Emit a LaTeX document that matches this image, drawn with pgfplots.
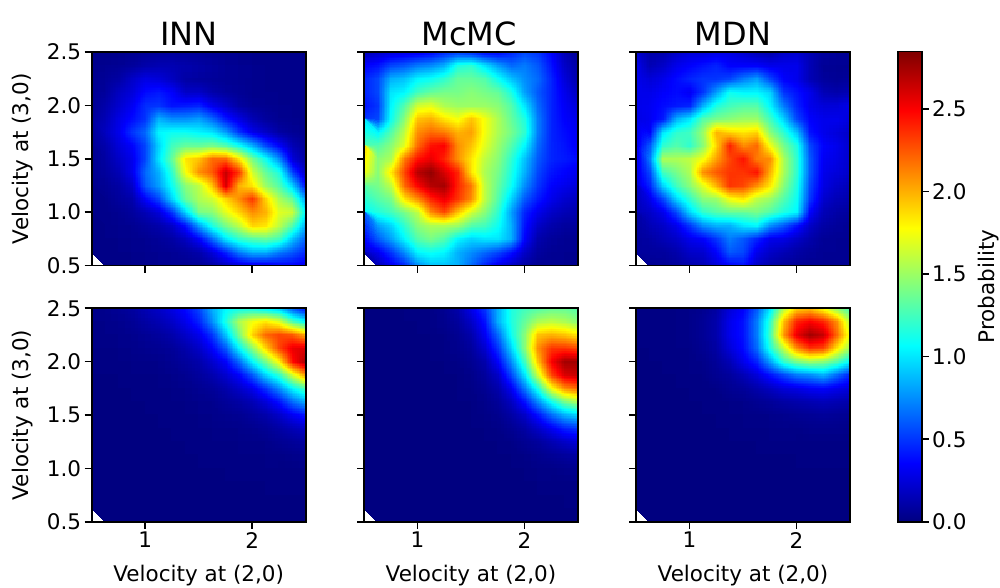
\documentclass[border=0pt]{standalone}
\usepackage{fontspec}
\setmainfont{DejaVu Sans}
\usepackage{pgfplots}
\usepgfplotslibrary{patchplots}
\pgfplotsset{compat=1.18}
\newcommand{\tfs}{\fontsize{21.5}{25}\selectfont}
\newcommand{\ttl}{\fontsize{32}{36}\selectfont}
\pgfplotsset{
  table/hmtab/.style={header=false,row sep=crcr,meta index=0,
    x expr={0.5+mod(\coordindex,17)*0.125},
    y expr={2.5-floor(\coordindex/17)*0.125}},
  hmplot/.style={surf,shader=interp,patch type=bilinear,mesh/cols=17,point meta=explicit},
  base/.style={
    scale only axis,width=214pt,height=213.5pt,anchor=south west,
    xmin=0.5,xmax=2.5,ymin=0.5,ymax=2.5,
    colormap/jet,point meta min=0,point meta max=2.85,
    axis on top,axis line style={line width=1.6pt,black},
    tick align=outside,major tick length=7pt,tick style={line width=1.6pt,black},
    xtick={1,2},ytick={0.5,1,1.5,2,2.5},
    xtick pos=bottom,ytick pos=left,
    tick label style={font=\tfs},
    /pgf/number format/assume math mode=true,
    xticklabel style={/pgf/number format/fixed,/pgf/number format/precision=0},
    yticklabel style={/pgf/number format/fixed,/pgf/number format/fixed zerofill,/pgf/number format/precision=1},
    title style={font=\ttl,yshift=-3pt},
  },
  nox/.style={xticklabels={}},
  noy/.style={yticklabels={}},
  yl/.style={ylabel={Velocity at (3,0)},y label style={font=\tfs,at={(axis description cs:-0.322,0.5)},anchor=center}},
  xl/.style={xlabel={Velocity at (2,0)},x label style={font=\tfs,at={(axis description cs:0.5,-0.25)},anchor=center}},
}
\begin{document}
\begin{tikzpicture}[x=1pt,y=1pt]
\path[use as bounding box] (0,0) rectangle (1000,587);
% INN top
\begin{axis}[base,at={(91.7pt,321.5pt)},nox,yl,title={INN},title style={xshift=-10pt}]
\addplot[hmplot] table[hmtab]{
0.03\\0.03\\0.04\\0.05\\0.06\\0.07\\0.08\\0.08\\0.07\\0.06\\0.05\\0.04\\0.03\\0.03\\0.03\\0.03\\0.03\\
0.04\\0.05\\0.06\\0.08\\0.12\\0.14\\0.14\\0.12\\0.1\\0.08\\0.06\\0.05\\0.04\\0.03\\0.03\\0.03\\0.03\\
0.05\\0.07\\0.1\\0.2\\0.28\\0.25\\0.18\\0.1\\0.08\\0.07\\0.06\\0.05\\0.04\\0.03\\0.03\\0.03\\0.03\\
0.06\\0.08\\0.18\\0.25\\0.38\\0.42\\0.35\\0.2\\0.2\\0.12\\0.08\\0.06\\0.04\\0.04\\0.03\\0.03\\0.03\\
0.05\\0.12\\0.22\\0.32\\0.48\\0.5\\0.4\\0.42\\0.45\\0.3\\0.2\\0.1\\0.06\\0.05\\0.04\\0.03\\0.03\\
0.07\\0.15\\0.28\\0.38\\0.5\\0.85\\0.75\\0.75\\0.8\\0.65\\0.42\\0.28\\0.15\\0.08\\0.05\\0.04\\0.03\\
0.08\\0.18\\0.3\\0.5\\0.65\\1.05\\1.1\\1.1\\1.05\\1.0\\0.8\\0.5\\0.3\\0.2\\0.1\\0.06\\0.04\\
0.06\\0.12\\0.25\\0.35\\0.55\\0.95\\1.25\\1.35\\1.35\\1.4\\1.3\\1.1\\0.85\\0.55\\0.35\\0.15\\0.06\\
0.05\\0.1\\0.2\\0.3\\0.55\\1.0\\1.35\\1.85\\1.95\\2.2\\2.2\\1.85\\1.4\\1.1\\0.75\\0.25\\0.08\\
0.05\\0.08\\0.15\\0.3\\0.65\\0.85\\1.2\\1.75\\2.1\\2.25\\2.65\\2.35\\1.65\\1.35\\1.15\\0.55\\0.15\\
0.04\\0.06\\0.1\\0.2\\0.6\\0.8\\1.1\\1.45\\1.6\\1.95\\2.6\\2.0\\1.85\\1.5\\1.3\\0.95\\0.35\\
0.03\\0.04\\0.08\\0.12\\0.35\\0.55\\0.95\\1.35\\1.55\\1.65\\1.9\\2.1\\2.35\\1.9\\1.55\\1.35\\0.75\\
0.03\\0.03\\0.05\\0.08\\0.15\\0.25\\0.5\\0.95\\1.4\\1.45\\1.7\\1.9\\2.1\\2.0\\1.7\\1.65\\1.0\\
0.02\\0.03\\0.04\\0.05\\0.08\\0.12\\0.2\\0.4\\0.8\\1.15\\1.4\\1.6\\1.9\\1.85\\1.6\\1.3\\0.8\\
0.02\\0.02\\0.03\\0.04\\0.05\\0.07\\0.1\\0.18\\0.35\\0.65\\1.0\\1.2\\1.3\\1.35\\1.25\\0.9\\0.6\\
0.02\\0.02\\0.02\\0.03\\0.04\\0.05\\0.06\\0.08\\0.12\\0.25\\0.45\\0.7\\0.85\\0.85\\0.7\\0.6\\0.45\\
0.01\\0.01\\0.02\\0.02\\0.03\\0.04\\0.05\\0.05\\0.06\\0.1\\0.18\\0.25\\0.3\\0.3\\0.35\\0.35\\0.3\\
};
\end{axis}
% McMC top
\begin{axis}[base,at={(364pt,321.5pt)},nox,noy,title={McMC},title style={xshift=-2pt}]
\addplot[hmplot] table[hmtab]{
0.15\\0.2\\0.25\\0.28\\0.3\\0.35\\0.45\\0.5\\0.45\\0.35\\0.35\\0.45\\0.55\\0.5\\0.35\\0.15\\0.06\\
0.35\\0.4\\0.55\\0.6\\0.7\\0.75\\0.85\\1.15\\1.2\\1.0\\0.8\\0.65\\0.7\\0.6\\0.4\\0.2\\0.1\\
0.45\\0.55\\0.85\\0.9\\1.05\\1.1\\1.2\\1.35\\1.35\\1.3\\1.1\\0.9\\0.75\\0.65\\0.45\\0.25\\0.12\\
0.45\\0.55\\1.0\\1.05\\1.25\\1.35\\1.4\\1.4\\1.45\\1.4\\1.35\\1.15\\0.8\\0.6\\0.45\\0.3\\0.18\\
0.4\\0.5\\1.05\\1.3\\1.65\\1.7\\1.55\\1.5\\1.5\\1.5\\1.45\\1.3\\1.0\\0.65\\0.45\\0.33\\0.25\\
0.5\\0.55\\1.1\\1.45\\1.95\\2.0\\1.85\\1.75\\1.95\\1.75\\1.55\\1.35\\1.15\\0.7\\0.45\\0.35\\0.3\\
1.0\\1.05\\1.3\\1.6\\2.1\\2.2\\2.15\\2.0\\2.05\\1.75\\1.55\\1.4\\1.2\\0.7\\0.45\\0.38\\0.32\\
1.3\\1.3\\1.45\\1.7\\2.2\\2.45\\2.5\\2.1\\1.95\\1.7\\1.5\\1.3\\1.05\\0.65\\0.45\\0.4\\0.33\\
1.9\\1.45\\1.55\\2.15\\2.45\\2.55\\2.4\\2.1\\1.85\\1.6\\1.45\\1.2\\0.9\\0.6\\0.45\\0.42\\0.38\\
1.75\\1.45\\1.85\\2.3\\2.7\\2.8\\2.6\\2.4\\1.85\\1.55\\1.4\\1.15\\0.85\\0.55\\0.4\\0.35\\0.3\\
1.35\\1.4\\1.6\\2.2\\2.5\\2.7\\2.75\\2.4\\2.15\\1.6\\1.35\\1.1\\0.75\\0.5\\0.35\\0.3\\0.25\\
1.3\\1.3\\1.4\\1.85\\2.1\\2.4\\2.55\\2.35\\2.1\\1.6\\1.3\\0.95\\0.6\\0.42\\0.3\\0.22\\0.18\\
1.05\\1.15\\1.25\\1.4\\1.6\\2.1\\2.3\\1.95\\1.65\\1.45\\1.2\\0.8\\0.45\\0.3\\0.2\\0.15\\0.12\\
0.6\\0.8\\0.95\\1.2\\1.45\\1.55\\1.55\\1.5\\1.3\\1.25\\1.1\\0.85\\0.4\\0.2\\0.12\\0.08\\0.08\\
0.35\\0.6\\0.8\\1.05\\1.3\\1.4\\1.3\\1.05\\0.95\\1.0\\1.0\\0.85\\0.35\\0.12\\0.07\\0.05\\0.05\\
0.2\\0.3\\0.5\\0.75\\1.05\\1.1\\1.05\\0.85\\0.75\\0.65\\0.55\\0.4\\0.2\\0.08\\0.05\\0.04\\0.04\\
0.1\\0.15\\0.3\\0.45\\0.75\\0.9\\0.9\\0.85\\0.65\\0.45\\0.3\\0.2\\0.1\\0.05\\0.04\\0.03\\0.03\\
};
\end{axis}
% MDN top
\begin{axis}[base,at={(636pt,321.5pt)},nox,noy,title={MDN},title style={xshift=-10pt}]
\addplot[hmplot] table[hmtab]{
0.22\\0.12\\0.12\\0.2\\0.25\\0.25\\0.28\\0.28\\0.22\\0.15\\0.12\\0.2\\0.22\\0.15\\0.08\\0.06\\0.05\\
0.3\\0.15\\0.2\\0.3\\0.35\\0.4\\0.45\\0.35\\0.35\\0.35\\0.3\\0.3\\0.3\\0.15\\0.06\\0.05\\0.05\\
0.3\\0.25\\0.3\\0.38\\0.45\\0.5\\0.5\\0.55\\0.7\\0.8\\0.55\\0.35\\0.3\\0.15\\0.08\\0.06\\0.08\\
0.3\\0.3\\0.35\\0.38\\0.32\\0.5\\0.8\\1.1\\1.05\\1.05\\0.95\\0.5\\0.4\\0.3\\0.15\\0.12\\0.15\\
0.3\\0.32\\0.38\\0.42\\0.45\\0.85\\1.15\\1.25\\1.3\\1.3\\1.05\\0.7\\0.45\\0.3\\0.25\\0.25\\0.3\\
0.28\\0.32\\0.42\\0.85\\1.0\\1.3\\1.4\\1.45\\1.5\\1.5\\1.25\\0.95\\0.55\\0.35\\0.3\\0.3\\0.25\\
0.3\\0.35\\1.0\\1.2\\1.25\\1.5\\2.0\\1.9\\1.85\\1.9\\1.45\\1.2\\0.9\\0.4\\0.3\\0.25\\0.2\\
0.3\\0.6\\1.2\\1.3\\1.2\\1.45\\1.9\\2.4\\2.1\\2.2\\1.75\\1.4\\1.15\\0.55\\0.35\\0.3\\0.22\\
0.3\\0.7\\1.55\\1.55\\1.6\\1.75\\2.05\\2.3\\2.45\\2.15\\2.1\\1.55\\1.2\\0.6\\0.32\\0.28\\0.22\\
0.28\\0.55\\1.25\\1.4\\1.55\\2.1\\2.25\\2.35\\2.35\\2.45\\2.0\\1.55\\1.2\\0.6\\0.3\\0.25\\0.2\\
0.25\\0.45\\0.95\\1.25\\1.45\\1.7\\2.0\\2.35\\2.3\\2.1\\1.85\\1.45\\1.15\\0.55\\0.28\\0.2\\0.15\\
0.2\\0.3\\0.55\\0.95\\1.2\\1.45\\1.5\\1.75\\1.85\\1.6\\1.5\\1.3\\1.1\\0.5\\0.22\\0.15\\0.12\\
0.15\\0.2\\0.3\\0.55\\0.95\\1.2\\1.3\\1.35\\1.35\\1.4\\1.3\\1.15\\1.05\\0.35\\0.15\\0.1\\0.08\\
0.1\\0.15\\0.2\\0.3\\0.5\\0.75\\0.85\\0.85\\1.0\\1.05\\0.75\\0.6\\0.4\\0.2\\0.1\\0.07\\0.05\\
0.08\\0.1\\0.15\\0.2\\0.3\\0.35\\0.5\\0.7\\0.6\\0.45\\0.3\\0.28\\0.2\\0.12\\0.06\\0.05\\0.05\\
0.08\\0.08\\0.08\\0.12\\0.2\\0.22\\0.35\\0.6\\0.55\\0.3\\0.2\\0.15\\0.1\\0.07\\0.05\\0.05\\0.05\\
0.06\\0.05\\0.06\\0.08\\0.12\\0.15\\0.25\\0.35\\0.4\\0.2\\0.12\\0.08\\0.06\\0.05\\0.05\\0.05\\0.05\\
};
\end{axis}
% INN bottom
\begin{axis}[base,at={(91.7pt,65.3pt)},yl,xl]
\addplot[hmplot] table[hmtab]{
0.03\\0.04\\0.06\\0.09\\0.15\\0.2\\0.28\\0.38\\0.55\\0.85\\1.05\\1.1\\1.1\\1.0\\0.9\\0.6\\0.35\\
0.02\\0.03\\0.04\\0.06\\0.1\\0.14\\0.2\\0.3\\0.45\\0.75\\1.15\\1.55\\1.75\\1.85\\1.7\\1.3\\1.05\\
0.02\\0.02\\0.03\\0.04\\0.06\\0.08\\0.12\\0.2\\0.3\\0.5\\0.9\\1.4\\1.9\\2.2\\2.3\\2.25\\2.0\\
0.01\\0.01\\0.02\\0.03\\0.04\\0.05\\0.07\\0.12\\0.2\\0.35\\0.6\\1.05\\1.45\\1.9\\2.3\\2.55\\2.6\\
0.01\\0.01\\0.01\\0.02\\0.02\\0.03\\0.05\\0.08\\0.12\\0.22\\0.35\\0.65\\1.05\\1.4\\1.8\\2.45\\2.75\\
0\\0\\0.01\\0.01\\0.01\\0.02\\0.03\\0.05\\0.08\\0.13\\0.22\\0.35\\0.6\\0.95\\1.2\\1.65\\2.1\\
0\\0\\0\\0.01\\0.01\\0.01\\0.02\\0.03\\0.05\\0.07\\0.12\\0.2\\0.3\\0.5\\0.75\\1.05\\1.3\\
0\\0\\0\\0\\0.01\\0.01\\0.01\\0.02\\0.03\\0.04\\0.07\\0.1\\0.15\\0.25\\0.4\\0.65\\0.85\\
0\\0\\0\\0\\0\\0.01\\0.01\\0.01\\0.02\\0.03\\0.04\\0.05\\0.08\\0.12\\0.2\\0.32\\0.42\\
0\\0\\0\\0\\0\\0\\0.01\\0.01\\0.01\\0.02\\0.02\\0.03\\0.04\\0.06\\0.1\\0.15\\0.2\\
0\\0\\0\\0\\0\\0\\0\\0.01\\0.01\\0.01\\0.01\\0.02\\0.02\\0.03\\0.05\\0.07\\0.09\\
0\\0\\0\\0\\0\\0\\0\\0\\0.01\\0.01\\0.01\\0.01\\0.01\\0.02\\0.02\\0.03\\0.04\\
0\\0\\0\\0\\0\\0\\0\\0\\0\\0\\0.01\\0.01\\0.01\\0.01\\0.01\\0.01\\0.02\\
0\\0\\0\\0\\0\\0\\0\\0\\0\\0\\0\\0\\0\\0.01\\0.01\\0.01\\0.01\\
0\\0\\0\\0\\0\\0\\0\\0\\0\\0\\0\\0\\0\\0\\0\\0\\0.01\\
0\\0\\0\\0\\0\\0\\0\\0\\0\\0\\0\\0\\0\\0\\0\\0\\0\\
0\\0\\0\\0\\0\\0\\0\\0\\0\\0\\0\\0\\0\\0\\0\\0\\0\\
};
\end{axis}
% McMC bottom
\begin{axis}[base,at={(364pt,65.3pt)},noy,xl]
\addplot[hmplot] table[hmtab]{
0\\0\\0\\0.01\\0.01\\0.02\\0.05\\0.12\\0.3\\0.5\\0.85\\1.15\\1.25\\1.3\\1.35\\1.35\\1.3\\
0\\0\\0\\0\\0.01\\0.02\\0.04\\0.08\\0.2\\0.4\\0.85\\1.15\\1.35\\1.55\\1.6\\1.55\\1.45\\
0\\0\\0\\0\\0\\0.01\\0.02\\0.05\\0.12\\0.32\\0.65\\1.1\\1.45\\1.95\\2.0\\1.95\\1.85\\
0\\0\\0\\0\\0\\0.01\\0.02\\0.04\\0.08\\0.22\\0.5\\0.95\\1.45\\2.1\\2.35\\2.35\\2.3\\
0\\0\\0\\0\\0\\0\\0.01\\0.02\\0.05\\0.12\\0.35\\0.75\\1.25\\1.95\\2.5\\2.75\\2.75\\
0\\0\\0\\0\\0\\0\\0\\0.01\\0.03\\0.08\\0.2\\0.55\\1.0\\1.65\\2.3\\2.6\\2.65\\
0\\0\\0\\0\\0\\0\\0\\0.01\\0.02\\0.05\\0.12\\0.32\\0.7\\1.15\\1.75\\2.1\\2.2\\
0\\0\\0\\0\\0\\0\\0\\0\\0.01\\0.03\\0.07\\0.18\\0.4\\0.75\\1.1\\1.4\\1.55\\
0\\0\\0\\0\\0\\0\\0\\0\\0.01\\0.02\\0.04\\0.1\\0.2\\0.4\\0.65\\0.85\\0.95\\
0\\0\\0\\0\\0\\0\\0\\0\\0\\0.01\\0.02\\0.05\\0.1\\0.2\\0.32\\0.45\\0.5\\
0\\0\\0\\0\\0\\0\\0\\0\\0\\0\\0.01\\0.02\\0.05\\0.08\\0.14\\0.2\\0.25\\
0\\0\\0\\0\\0\\0\\0\\0\\0\\0\\0\\0.01\\0.02\\0.04\\0.06\\0.08\\0.1\\
0\\0\\0\\0\\0\\0\\0\\0\\0\\0\\0\\0\\0.01\\0.02\\0.02\\0.03\\0.04\\
0\\0\\0\\0\\0\\0\\0\\0\\0\\0\\0\\0\\0\\0.01\\0.01\\0.01\\0.02\\
0\\0\\0\\0\\0\\0\\0\\0\\0\\0\\0\\0\\0\\0\\0\\0.01\\0.01\\
0\\0\\0\\0\\0\\0\\0\\0\\0\\0\\0\\0\\0\\0\\0\\0\\0\\
0\\0\\0\\0\\0\\0\\0\\0\\0\\0\\0\\0\\0\\0\\0\\0\\0\\
};
\end{axis}
% MDN bottom
\begin{axis}[base,at={(636pt,65.3pt)},noy,xl]
\addplot[hmplot] table[hmtab]{
0.01\\0.01\\0.01\\0.02\\0.03\\0.05\\0.1\\0.25\\0.35\\0.6\\1.0\\1.55\\1.9\\1.95\\1.75\\1.45\\1.25\\
0.01\\0.01\\0.01\\0.02\\0.03\\0.06\\0.12\\0.3\\0.4\\0.7\\1.2\\1.95\\2.4\\2.5\\2.4\\2.1\\1.55\\
0.01\\0.01\\0.01\\0.02\\0.03\\0.06\\0.12\\0.3\\0.4\\0.7\\1.25\\2.05\\2.55\\2.75\\2.65\\2.2\\1.7\\
0\\0.01\\0.01\\0.01\\0.02\\0.05\\0.1\\0.25\\0.38\\0.65\\1.15\\1.6\\2.1\\2.35\\2.3\\1.85\\1.5\\
0\\0\\0.01\\0.01\\0.02\\0.03\\0.07\\0.15\\0.3\\0.45\\0.8\\1.2\\1.4\\1.5\\1.45\\1.3\\1.05\\
0\\0\\0\\0.01\\0.01\\0.02\\0.05\\0.08\\0.15\\0.25\\0.4\\0.55\\0.7\\0.75\\0.85\\0.65\\0.45\\
0\\0\\0\\0\\0.01\\0.01\\0.02\\0.05\\0.07\\0.12\\0.18\\0.25\\0.28\\0.33\\0.35\\0.3\\0.25\\
0\\0\\0\\0\\0\\0.01\\0.01\\0.02\\0.03\\0.05\\0.07\\0.1\\0.12\\0.14\\0.16\\0.14\\0.12\\
0\\0\\0\\0\\0\\0\\0.01\\0.01\\0.02\\0.02\\0.03\\0.04\\0.05\\0.06\\0.07\\0.06\\0.05\\
0\\0\\0\\0\\0\\0\\0\\0.01\\0.01\\0.01\\0.02\\0.02\\0.02\\0.03\\0.03\\0.03\\0.02\\
0\\0\\0\\0\\0\\0\\0\\0\\0\\0.01\\0.01\\0.01\\0.01\\0.01\\0.01\\0.01\\0.01\\
0\\0\\0\\0\\0\\0\\0\\0\\0\\0\\0\\0\\0.01\\0.01\\0.01\\0.01\\0.01\\
0\\0\\0\\0\\0\\0\\0\\0\\0\\0\\0\\0\\0\\0\\0\\0\\0\\
0\\0\\0\\0\\0\\0\\0\\0\\0\\0\\0\\0\\0\\0\\0\\0\\0\\
0\\0\\0\\0\\0\\0\\0\\0\\0\\0\\0\\0\\0\\0\\0\\0\\0\\
0\\0\\0\\0\\0\\0\\0\\0\\0\\0\\0\\0\\0\\0\\0\\0\\0\\
0\\0\\0\\0\\0\\0\\0\\0\\0\\0\\0\\0\\0\\0\\0\\0\\0\\
};
\end{axis}
% colour bar
\begin{axis}[base,at={(897.7pt,65.3pt)},width=24pt,height=470pt,
  xmin=0,xmax=1,ymin=0,ymax=2.848,xtick=\empty,ytick={0,0.5,1,1.5,2,2.5},
  ytick pos=right,yticklabel pos=right,ylabel={Probability},
  y label style={font=\tfs,at={(axis description cs:3.8,0.5)},anchor=center}]
\addplot[surf,shader=interp,mesh/cols=2,point meta=explicit] coordinates {
(0,0) [0] (1,0) [0] (0,2.848) [2.848] (1,2.848) [2.848]};
\end{axis}
\end{tikzpicture}
\end{document}
